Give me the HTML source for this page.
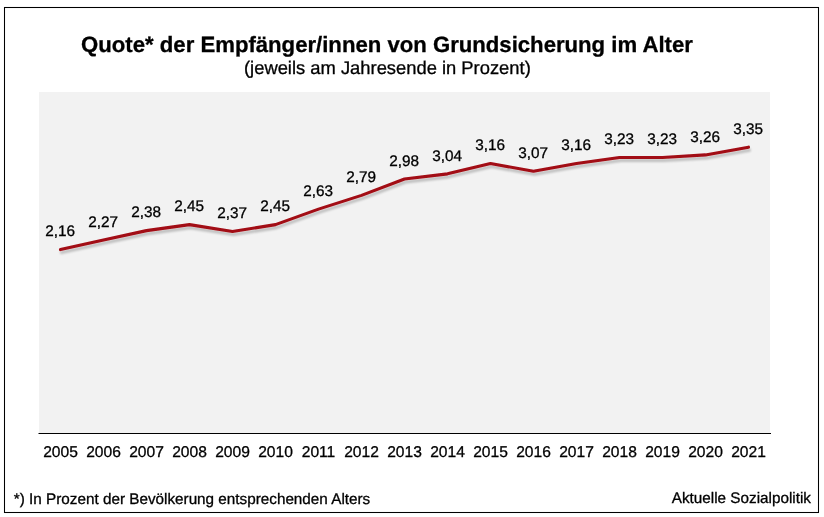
<!DOCTYPE html>
<html><head><meta charset="utf-8"><style>
html,body{margin:0;padding:0;background:#fff;}
body{width:824px;height:517px;overflow:hidden;}
svg{display:block;}
text{font-family:"Liberation Sans",Arial,Helvetica,sans-serif;fill:#000;stroke:#000;stroke-width:0.3px;text-rendering:geometricPrecision;}
</style></head><body>
<svg width="824" height="517" viewBox="0 0 824 517">
<defs>
<filter id="sh" x="-5%" y="-20%" width="110%" height="160%">
<feGaussianBlur in="SourceAlpha" stdDeviation="1.3"/>
<feOffset dx="1" dy="2.5" result="b"/>
<feComponentTransfer><feFuncA type="linear" slope="0.22"/></feComponentTransfer>
<feMerge><feMergeNode/><feMergeNode in="SourceGraphic"/></feMerge>
</filter>
</defs>
<rect x="0" y="0" width="824" height="517" fill="#fff"/>
<rect x="4.5" y="7.5" width="814" height="505" fill="none" stroke="#000" stroke-width="1.05"/>
<rect x="39" y="92" width="731" height="341" fill="#f2f2f2"/>
<line x1="38.5" y1="433.5" x2="771" y2="433.5" stroke="#000" stroke-width="1.2"/>
<polyline points="60.50,249.56 103.50,240.09 146.50,230.63 189.50,224.61 232.50,231.49 275.50,224.61 318.50,209.12 361.50,195.36 404.50,179.01 447.50,173.85 490.50,163.53 533.50,171.27 576.50,163.53 619.50,157.50 662.50,157.50 705.50,154.92 748.50,147.18" fill="none" stroke="#a20a12" stroke-width="3.1" stroke-linejoin="round" stroke-linecap="round" filter="url(#sh)"/>
<text x="81.1" y="51.8" font-size="22.15" font-weight="bold">Quote* der Empfänger/innen von Grundsicherung im Alter</text>
<text x="244.0" y="73.8" font-size="18.37">(jeweils am Jahresende in Prozent)</text>
<g font-size="15.33">
<text x="60.20" y="236.31" text-anchor="middle">2,16</text>
<text x="103.20" y="226.84" text-anchor="middle">2,27</text>
<text x="146.20" y="217.38" text-anchor="middle">2,38</text>
<text x="189.20" y="211.36" text-anchor="middle">2,45</text>
<text x="232.20" y="218.24" text-anchor="middle">2,37</text>
<text x="275.20" y="211.36" text-anchor="middle">2,45</text>
<text x="318.20" y="195.87" text-anchor="middle">2,63</text>
<text x="361.20" y="182.11" text-anchor="middle">2,79</text>
<text x="404.20" y="165.76" text-anchor="middle">2,98</text>
<text x="447.20" y="160.60" text-anchor="middle">3,04</text>
<text x="490.20" y="150.28" text-anchor="middle">3,16</text>
<text x="533.20" y="158.02" text-anchor="middle">3,07</text>
<text x="576.20" y="150.28" text-anchor="middle">3,16</text>
<text x="619.20" y="144.25" text-anchor="middle">3,23</text>
<text x="662.20" y="144.25" text-anchor="middle">3,23</text>
<text x="705.20" y="141.67" text-anchor="middle">3,26</text>
<text x="748.20" y="133.93" text-anchor="middle">3,35</text>
</g>
<g font-size="15.6">
<text x="60.50" y="456.8" text-anchor="middle">2005</text>
<text x="103.50" y="456.8" text-anchor="middle">2006</text>
<text x="146.50" y="456.8" text-anchor="middle">2007</text>
<text x="189.50" y="456.8" text-anchor="middle">2008</text>
<text x="232.50" y="456.8" text-anchor="middle">2009</text>
<text x="275.50" y="456.8" text-anchor="middle">2010</text>
<text x="318.50" y="456.8" text-anchor="middle">2011</text>
<text x="361.50" y="456.8" text-anchor="middle">2012</text>
<text x="404.50" y="456.8" text-anchor="middle">2013</text>
<text x="447.50" y="456.8" text-anchor="middle">2014</text>
<text x="490.50" y="456.8" text-anchor="middle">2015</text>
<text x="533.50" y="456.8" text-anchor="middle">2016</text>
<text x="576.50" y="456.8" text-anchor="middle">2017</text>
<text x="619.50" y="456.8" text-anchor="middle">2018</text>
<text x="662.50" y="456.8" text-anchor="middle">2019</text>
<text x="705.50" y="456.8" text-anchor="middle">2020</text>
<text x="748.50" y="456.8" text-anchor="middle">2021</text>
</g>
<text x="13.85" y="503.9" font-size="15.28">*) In Prozent der Bevölkerung entsprechenden Alters</text>
<text x="671.8" y="502.5" font-size="15.27">Aktuelle Sozialpolitik</text>
</svg>
</body></html>
